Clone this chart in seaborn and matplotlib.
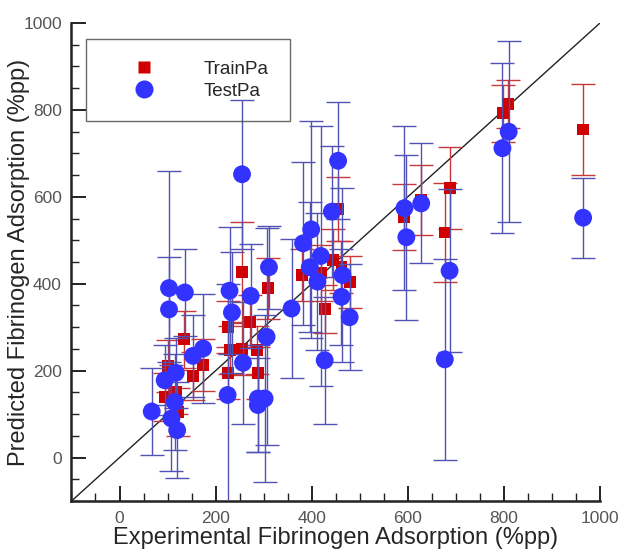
import numpy as np
import pandas as pd
import matplotlib
matplotlib.use("Agg")
import matplotlib.pyplot as plt
from matplotlib.lines import Line2D
from matplotlib.ticker import MultipleLocator
import seaborn as sns

sns.set_style("ticks")
plt.rcParams['font.family'] = ['Liberation Sans', 'DejaVu Sans']

# training set (red squares)
train_exp = [94, 101, 117, 122, 135, 152, 174, 225, 226, 230, 254, 255, 271, 287, 288,
             309, 380, 419, 427, 444, 455, 462, 479, 592, 628, 677, 687, 798, 808, 965]
train_pred = [140, 210, 151, 104, 272, 188, 214, 195, 300, 248, 250, 426, 313, 248, 194,
              390, 420, 425, 341, 455, 572, 439, 405, 553, 593, 518, 620, 792, 813, 755]
train_err = [55, 60, 50, 55, 65, 55, 60, 60, 60, 55, 60, 115, 60, 55, 60,
             70, 60, 65, 55, 70, 74, 60, 60, 76, 80, 113, 95, 65, 55, 105]

# test set (blue circles)
test_exp = [67, 94, 103, 103, 108, 115, 117, 120, 136, 153, 174, 225, 229, 234, 255,
            257, 273, 288, 288, 302, 306, 311, 358, 382, 396, 399, 412, 419, 427, 442,
            455, 462, 464, 479, 593, 597, 628, 677, 687, 797, 810, 965]
test_pred = [106, 178, 390, 341, 90, 128, 195, 63, 380, 234, 251, 144, 384, 334, 652,
             218, 372, 136, 121, 136, 278, 438, 343, 493, 438, 525, 405, 464, 224, 566,
             683, 370, 420, 323, 574, 507, 585, 226, 430, 712, 750, 552]
test_err = [100, 80, 270, 120, 122, 110, 80, 110, 100, 95, 125, 255, 146, 140, 172,
            140, 120, 123, 108, 192, 250, 95, 160, 187, 150, 250, 157, 300, 146, 150,
            135, 110, 200, 122, 188, 190, 138, 232, 188, 195, 208, 92]

train = pd.DataFrame({"exp": train_exp, "pred": train_pred, "err": train_err})
test = pd.DataFrame({"exp": test_exp, "pred": test_pred, "err": test_err})

red = "#d00000"
blue = "#3333ff"

fig = plt.figure(figsize=(6.21, 5.51), dpi=100)
ax = fig.add_axes([0.1151, 0.0907, 0.851, 0.8675])

# y = x reference line
ax.plot([-100, 1000], [-100, 1000], color="#222222", lw=1.0, zorder=1)

ax.errorbar(train["exp"], train["pred"], yerr=train["err"], fmt="none",
            ecolor="#c83838", elinewidth=1.0, capsize=8.5, capthick=1.0, zorder=2)
sns.scatterplot(data=train, x="exp", y="pred", marker="s", s=74, color=red,
                edgecolor="none", linewidth=0, ax=ax, zorder=3, legend=False)

ax.errorbar(test["exp"], test["pred"], yerr=test["err"], fmt="none",
            ecolor="#5252b4", elinewidth=1.0, capsize=8.5, capthick=1.0, zorder=4)
sns.scatterplot(data=test, x="exp", y="pred", marker="o", s=165, color=blue,
                edgecolor="none", linewidth=0, ax=ax, zorder=5, legend=False)

ax.set_xlim(-100, 1000)
ax.set_ylim(-100, 1000)
ax.set_xticks(np.arange(0, 1001, 200))
ax.set_yticks(np.arange(0, 1001, 200))
ax.xaxis.set_minor_locator(MultipleLocator(50))
ax.yaxis.set_minor_locator(MultipleLocator(50))
ax.tick_params(which="major", direction="in", length=11, width=1.4, color="#222222",
               labelsize=12.5, labelcolor="#555555", pad=7)
ax.tick_params(which="minor", direction="in", length=6, width=1.0, color="#222222")

sns.despine(ax=ax)
for side in ["left", "bottom"]:
    ax.spines[side].set_linewidth(1.8)
    ax.spines[side].set_color("#222222")

ax.set_xlabel("Experimental Fibrinogen Adsorption (%pp)", fontsize=17, labelpad=1)
ax.set_ylabel("Predicted Fibrinogen Adsorption (%pp)", fontsize=17, labelpad=-5)

handles = [Line2D([], [], ls="none", marker="s", ms=9, color=red, mec="none"),
           Line2D([], [], ls="none", marker="o", ms=13, color=blue, mec="none")]
leg = ax.legend(handles, ["TrainPa", "TestPa"], loc="upper left",
                bbox_to_anchor=(0.0274, 0.9665), borderaxespad=0, fontsize=13.5,
                borderpad=1.15, handlelength=3.9, handletextpad=1.2, labelspacing=0.25,
                fancybox=False, frameon=True, facecolor="none", edgecolor="#444444")
leg.get_frame().set_linewidth(1.0)

fig.savefig("out.png", dpi=100)
